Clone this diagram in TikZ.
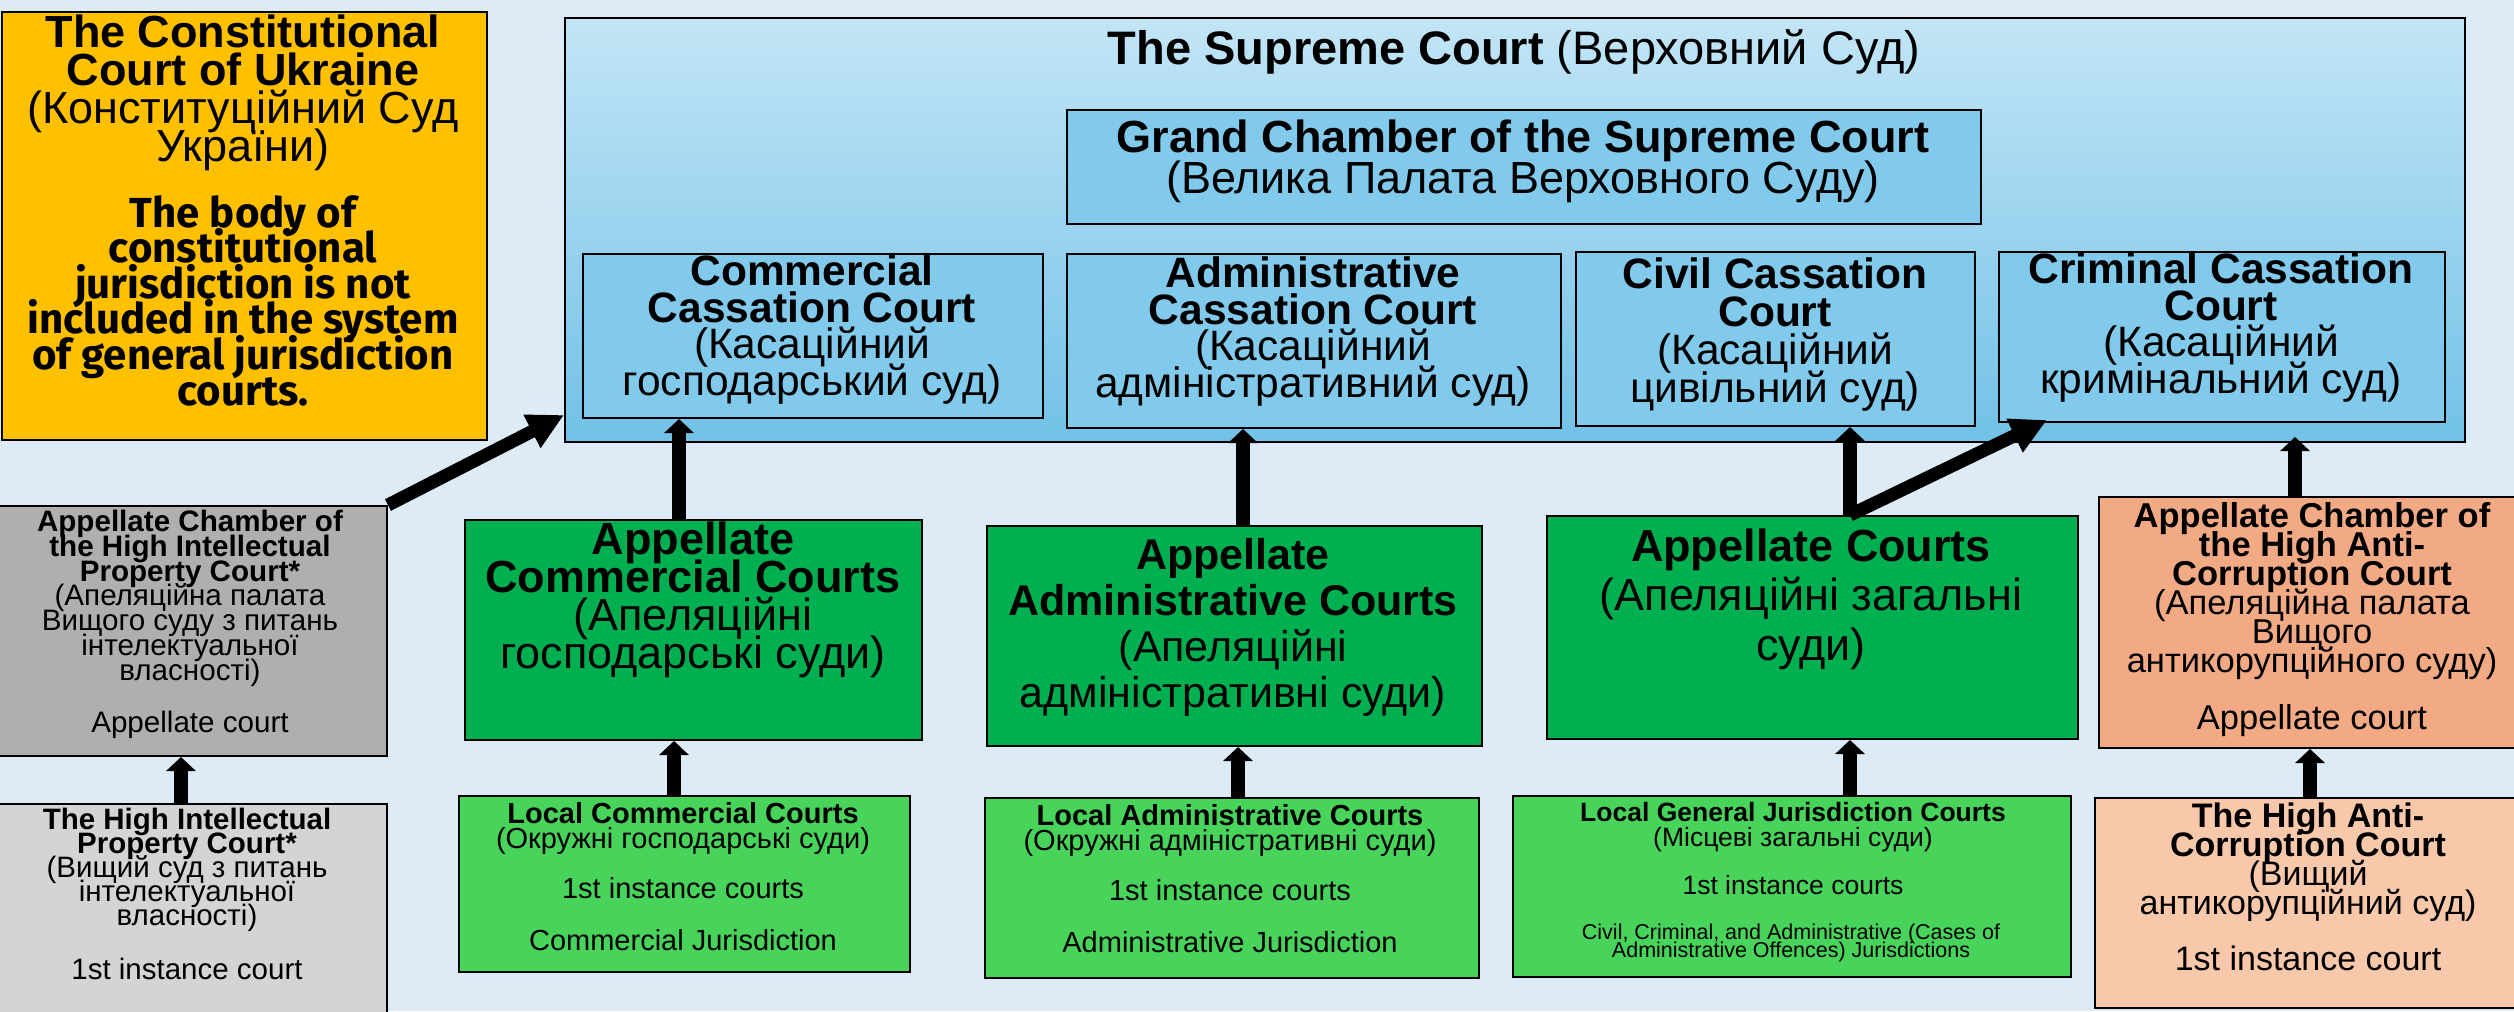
\documentclass[tikz,border=0pt]{standalone}
\usepackage{fontspec}
\setmainfont{Liberation Sans}
\newfontfamily\fira{Fira Sans}
\usetikzlibrary{arrows.meta,calc}
\definecolor{bg}{HTML}{DDEBF7}
\definecolor{ccol}{HTML}{FFC000}
\definecolor{scTop}{HTML}{C2E5F6}
\definecolor{scBot}{HTML}{72C1E7}
\definecolor{inner}{HTML}{82CAEB}
\definecolor{dkgreen}{HTML}{00B050}
\definecolor{ltgreen}{HTML}{48D35A}
\definecolor{orangeA}{HTML}{F2AA84}
\definecolor{orangeB}{HTML}{F8C8AA}
\definecolor{grayA}{HTML}{AFAFAF}
\definecolor{grayB}{HTML}{D4D4D4}
\newcommand\fsz[2]{\fontsize{#1}{#2}\selectfont\lineskiplimit=-100pt\lineskip=0pt}
\begin{document}
\begin{tikzpicture}[x=0.5pt,y=-0.5pt,
  box/.style={draw=black,line width=1pt,inner sep=0pt,anchor=north west},
  txt/.style={anchor=base,align=center,inner sep=0pt,text=black},
  varrow/.style={line width=6.75pt,-{Triangle[width=14.5pt,length=7pt]}},
  darrow/.style={line width=6.5pt,-{Triangle[width=17.5pt,length=18pt]}}]
\useasboundingbox (0,0) rectangle (2514,1011);
\fill[bg] (0,0) rectangle (2514,1011);

% boxes
\node[box,fill=ccol,minimum width=242.5pt,minimum height=214pt] (cc) at (1,11) {};
\node[box,top color=scTop,bottom color=scBot,minimum width=950pt,minimum height=212pt] (sc) at (564,17) {};
\node[box,fill=inner,minimum width=457pt,minimum height=57pt] (gc) at (1066,109) {};
\node[box,fill=inner,minimum width=230pt,minimum height=82pt] (cas1) at (582,253) {};
\node[box,fill=inner,minimum width=247pt,minimum height=87pt] (cas2) at (1066,253) {};
\node[box,fill=inner,minimum width=199.5pt,minimum height=87pt] (cas3) at (1575,251) {};
\node[box,fill=inner,minimum width=223pt,minimum height=85pt] (cas4) at (1998,251) {};
\node[box,fill=grayA,minimum width=198pt,minimum height=125pt] (ipa) at (-10,505) {};
\node[box,fill=grayB,minimum width=198pt,minimum height=113.5pt] (iph) at (-10,803) {};
\node[box,fill=dkgreen,minimum width=228.5pt,minimum height=110pt] (apc) at (464,519) {};
\node[box,fill=ltgreen,minimum width=225.5pt,minimum height=88pt] (lc) at (458,795) {};
\node[box,fill=dkgreen,minimum width=247.5pt,minimum height=110pt] (apa) at (986,525) {};
\node[box,fill=ltgreen,minimum width=247pt,minimum height=90pt] (la) at (984,797) {};
\node[box,fill=dkgreen,minimum width=265.5pt,minimum height=111.5pt] (apg) at (1546,515) {};
\node[box,fill=ltgreen,minimum width=279pt,minimum height=90.5pt] (lg) at (1512,795) {};
\node[box,fill=orangeA,minimum width=216pt,minimum height=125.5pt] (aca) at (2098,496) {};
\node[box,fill=orangeB,minimum width=218pt,minimum height=105pt] (ach) at (2094,797) {};

% texts (anchor = baseline of the last line)
\node[txt,font=\fsz{22.5pt}{19pt}] (cct1) at (243,162) {\textbf{The Constitutional}\\\textbf{Court of Ukraine}\\(Конституційний Суд\\України)};
\node[txt,font=\fira\bfseries\fsz{21pt}{17.8pt}] (cct2) at (243,405) {The body of\\constitutional\\jurisdiction is not\\included in the system\\of general jurisdiction\\courts.};
\node[txt,font=\fsz{23.5pt}{28pt}] (sct) at (1514,65) {\textbf{The Supreme Court} (Верховний Суд)};
\node[txt,font=\fsz{22.5pt}{20.5pt}] (gct) at (1523,193) {\textbf{Grand Chamber of the Supreme Court}\\(Велика Палата Верховного Суду)};
\node[txt,font=\fsz{21.25pt}{18.25pt}] (cas1t) at (812,395) {\textbf{Commercial}\\\textbf{Cassation Court}\\(Касаційний\\господарський суд)};
\node[txt,font=\fsz{21.25pt}{18.25pt}] (cas2t) at (1313,397) {\textbf{Administrative}\\\textbf{Cassation Court}\\(Касаційний\\адміністративний суд)};
\node[txt,font=\fsz{21.25pt}{19pt}] (cas3t) at (1775,402) {\textbf{Civil Cassation}\\\textbf{Court}\\(Касаційний\\цивільний суд)};
\node[txt,font=\fsz{21.25pt}{18.25pt}] (cas4t) at (2221,393) {\textbf{Criminal Cassation}\\\textbf{Court}\\(Касаційний\\кримінальний суд)};

\node[txt,font=\fsz{14.8pt}{12.4pt}] (ipat) at (190,732) {\textbf{Appellate Chamber of}\\\textbf{the High Intellectual}\\\textbf{Property Court*}\\(Апеляційна палата\\Вищого суду з питань\\інтелектуальної\\власності)\\[13.5pt]Appellate court};
\node[txt,font=\fsz{14.75pt}{12.1pt}] (ipht) at (187,979) {\textbf{The High Intellectual}\\\textbf{Property Court*}\\(Вищий суд з питань\\інтелектуальної\\власності)\\[14.5pt]1st instance court};

\node[txt,font=\fsz{22.5pt}{18.85pt}] (apct) at (693,668) {\textbf{Appellate}\\\textbf{Commercial Courts}\\(Апеляційні\\господарські суди)};
\node[txt,font=\fsz{21.5pt}{22.85pt}] (apat) at (1233,707) {\textbf{Appellate}\\\textbf{Administrative Courts}\\(Апеляційні\\адміністративні суди)};
\node[txt,font=\fsz{22.5pt}{24.75pt}] (apgt) at (1811,660) {\textbf{Appellate Courts}\\(Апеляційні загальні\\суди)};

\node[txt,font=\fsz{14.5pt}{12.5pt}] (lct) at (683,950) {\textbf{Local Commercial Courts}\\(Окружні господарські суди)\\[12.5pt]1st instance courts\\[13.5pt]Commercial Jurisdiction};
\node[txt,font=\fsz{14.5pt}{12.5pt}] (lat) at (1230,952) {\textbf{Local Administrative Courts}\\(Окружні адміністративні суди)\\[12.5pt]1st instance courts\\[13.5pt]Administrative Jurisdiction};
\node[txt,font=\fsz{13.25pt}{12.5pt}] (lgt) at (1793,894) {\textbf{Local General Jurisdiction Courts}\\(Місцеві загальні суди)\\[11.5pt]1st instance courts};
\node[txt,font=\fsz{10.75pt}{9pt}] (lgt2) at (1791,957) {Civil, Criminal, and Administrative (Cases of\\Administrative Offences) Jurisdictions};

\node[txt,font=\fsz{17.25pt}{14.5pt}] (acat) at (2312,729) {\textbf{Appellate Chamber of}\\\textbf{the High Anti-}\\\textbf{Corruption Court}\\(Апеляційна палата\\Вищого\\антикорупційного суду)\\[14pt]Appellate court};
\node[txt,font=\fsz{17pt}{14.5pt}] (acht) at (2308,970) {\textbf{The High Anti-}\\\textbf{Corruption Court}\\(Вищий\\антикорупційний суд)\\[13.5pt]1st instance court};

% arrow columns
\coordinate (xIP) at (181,0);
\coordinate (xCom) at (679,0);
\coordinate (xCom2) at (674,0);
\coordinate (xAdm) at (1243,0);
\coordinate (xAdm2) at (1238,0);
\coordinate (xGen) at (1850,0);
\coordinate (xAC) at (2295,0);
\coordinate (xAC2) at (2310,0);

% arrows
\draw[darrow] (ipa.north east) -- ($(sc.south west)+(0,-28)$);
\draw[varrow] (apc.north -| xCom) -- (cas1.south -| xCom);
\draw[varrow] (apa.north -| xAdm) -- (cas2.south -| xAdm);
\draw[varrow] (apg.north -| xGen) -- (cas3.south -| xGen);
\draw[darrow] (apg.north -| xGen) -- ($(cas4.south west)+(49,-3)$);
\draw[varrow] (aca.north -| xAC) -- ($(sc.south -| xAC)+(0,-6)$);
\draw[varrow] (iph.north -| xIP) -- (ipa.south -| xIP);
\draw[varrow] (lc.north -| xCom2) -- (apc.south -| xCom2);
\draw[varrow] (la.north -| xAdm2) -- (apa.south -| xAdm2);
\draw[varrow] (lg.north -| xGen) -- (apg.south -| xGen);
\draw[varrow] (ach.north -| xAC2) -- (aca.south -| xAC2);
\end{tikzpicture}
\end{document}
